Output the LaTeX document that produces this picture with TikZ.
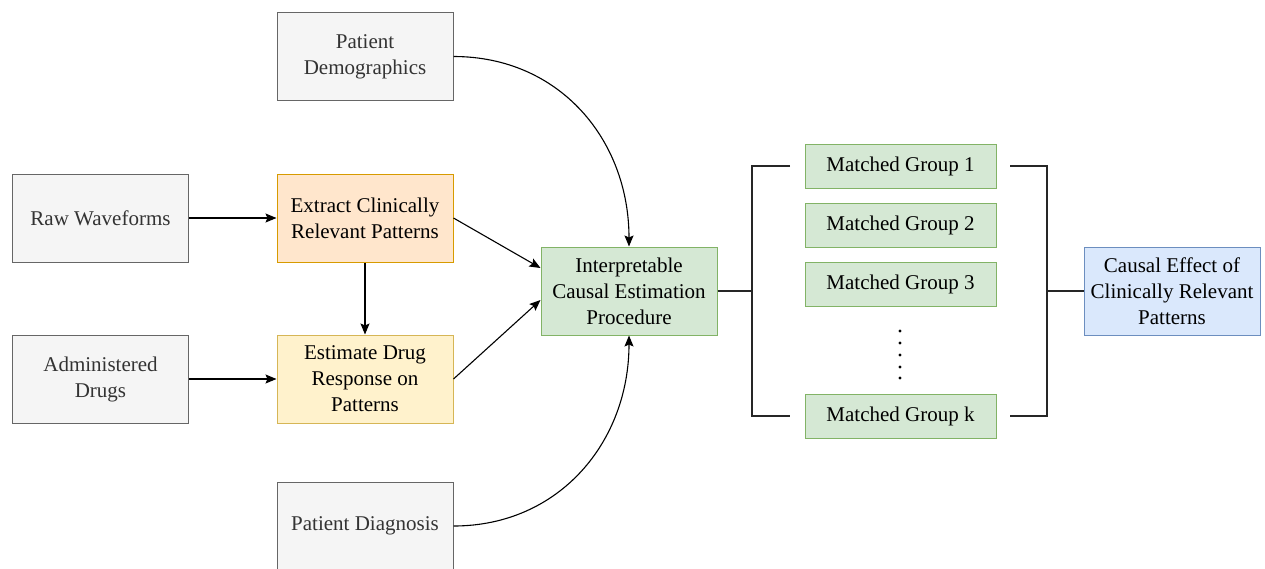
\documentclass[tikz,border=0pt]{standalone}
\usepackage{fontspec}
\setmainfont{Liberation Serif}
\usetikzlibrary{arrows.meta}
\definecolor{grayfill}{HTML}{F5F5F5}
\definecolor{grayline}{HTML}{666666}
\definecolor{graytext}{HTML}{333333}
\definecolor{orfill}{HTML}{FFE6CC}
\definecolor{orline}{HTML}{D79B00}
\definecolor{yefill}{HTML}{FFF2CC}
\definecolor{yeline}{HTML}{D6B656}
\definecolor{grfill}{HTML}{D5E8D4}
\definecolor{grline}{HTML}{82B366}
\definecolor{blfill}{HTML}{DAE8FC}
\definecolor{blline}{HTML}{6C8EBF}
\begin{document}
\begin{tikzpicture}[x=1pt,y=-1pt,
  box/.style={draw, line width=1pt, minimum width=176pt, minimum height=88pt, align=center, inner sep=2pt,
     font=\fontsize{21}{26}\selectfont},
  graybox/.style={box, fill=grayfill, draw=grayline, text=graytext},
  orbox/.style={box, fill=orfill, draw=orline},
  yebox/.style={box, fill=yefill, draw=yeline},
  grbox/.style={box, fill=grfill, draw=grline},
  blbox/.style={box, fill=blfill, draw=blline},
  mgbox/.style={grbox, minimum width=191pt, minimum height=44pt},
  conn/.style={line width=1.1pt, -{Stealth[length=11pt,width=9pt,inset=2pt]}},
  brk/.style={line width=2.8pt, black!85}
]
\useasboundingbox (0,0) rectangle (1265,568);

\node[graybox] (demo) at (365,56.5) {Patient\\Demographics};
\node[graybox] (raw) at (100.5,218) {Raw Waveforms};
\node[orbox] (extract) at (365,218) {Extract Clinically\\Relevant Patterns};
\node[graybox] (admin) at (100.5,379) {Administered\\Drugs};
\node[yebox] (estimate) at (365,379) {Estimate Drug\\Response on\\Patterns};
\node[graybox] (diag) at (365,526) {Patient Diagnosis};
\node[grbox] (interp) at (629,291) {Interpretable\\Causal Estimation\\Procedure};
\node[mgbox] (mg1) at (900.5,166) {Matched Group 1};
\node[mgbox] (mg2) at (900.5,225) {Matched Group 2};
\node[mgbox] (mg3) at (900.5,284) {Matched Group 3};
\node[mgbox] (mgk) at (900.5,416) {Matched Group k};
\node[blbox] (effect) at (1172,291) {Causal Effect of\\Clinically Relevant\\Patterns};

% arrows
\draw[conn] (raw.east) -- (extract.west);
\draw[conn] (admin.east) -- (estimate.west);
\draw[conn] (extract.south) -- (estimate.north);
\draw[conn] (extract.east) -- ([yshift=23pt]interp.west);
\draw[conn] (estimate.east) -- ([yshift=-9pt]interp.west);
\draw[conn] (demo.east) to[out=0,in=90,looseness=1.05] (interp.north);
\draw[conn] (diag.east) to[out=0,in=-90,looseness=1.05] (interp.south);

% brackets
\coordinate (lt) at (790,166);
\coordinate (lb) at (790,416);
\coordinate (rt) at (1010,166);
\coordinate (rb) at (1010,416);
\draw[brk] (lt) -- (752,166) -- (752,416) -- (lb);
\draw[brk] (interp.east) -- (752,291);
\draw[brk] (rt) -- (1047,166) -- (1047,416) -- (rb);
\draw[brk] (1047,291) -- (effect.west);

% vertical dots
\foreach \yy in {331,343,355,367,378}
  \fill (900,\yy) circle (1.6pt);
\end{tikzpicture}
\end{document}
